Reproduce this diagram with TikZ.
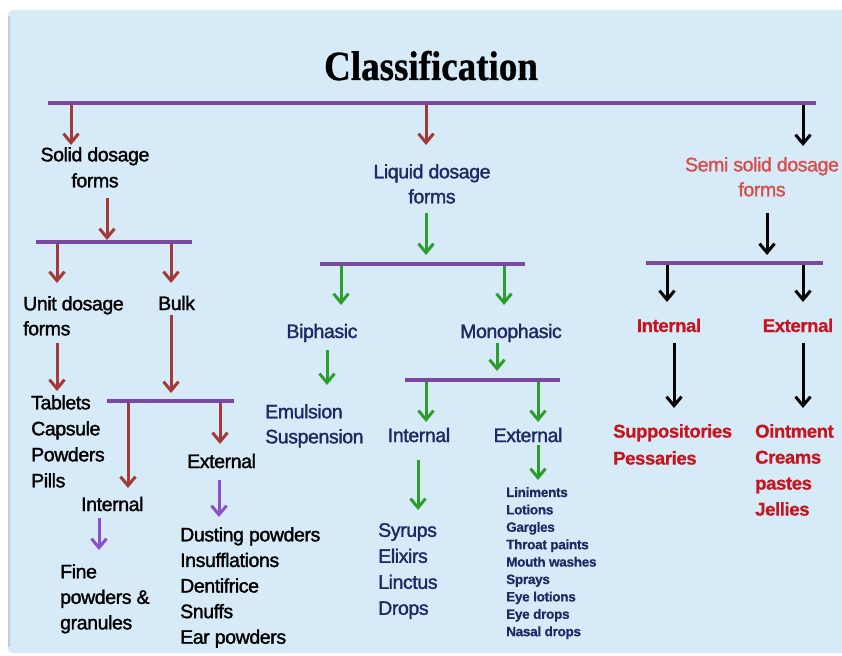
\documentclass[tikz,border=0pt]{standalone}
\usepackage{graphicx}
\usepackage{fontspec}
\setmainfont[FakeBold=1.6,LetterSpace=-2]{Liberation Sans}
\newfontfamily\boldsans[FakeBold=0.8,LetterSpace=-2]{Liberation Sans Bold}
\newfontfamily\titlefont[FakeBold=0.8]{Liberation Serif Bold}
\usetikzlibrary{arrows.meta}
\definecolor{bgc}{RGB}{214,234,248}
\definecolor{barc}{RGB}{122,72,160}
\definecolor{brn}{RGB}{163,58,55}
\definecolor{grn}{RGB}{44,158,44}
\definecolor{prp}{RGB}{140,80,200}
\definecolor{navy}{RGB}{30,42,100}
\definecolor{salmon}{RGB}{214,80,80}
\definecolor{redt}{RGB}{200,20,30}
\begin{document}
\begin{tikzpicture}[x=1pt,y=-1pt,
  bar/.style={barc,line width=4.5pt},
  arr/.style={line width=3pt,-{Straight Barb[length=9pt,width=15pt]}},
  lbl/.style={inner sep=0pt,font=\fontsize{19.5}{25.5}\selectfont},
  sm/.style={inner sep=0pt,font=\boldsans\fontsize{13.5}{17.4}\selectfont},
  rb/.style={inner sep=0pt,text=redt,font=\boldsans\fontsize{18.5}{26}\selectfont}]
\useasboundingbox (0,0) rectangle (842,655);
\fill[white] (0,0) rectangle (842,655);
\fill[bgc,rounded corners=6pt] (8,10) rectangle (860,653);
\fill[black!20] (8,16) rectangle (9.5,647);

% title
\node[inner sep=0pt,anchor=base,font=\titlefont\fontsize{37}{40}\selectfont] (title) at (431,80) {\scalebox{1}[1.12]{Classification}};

% bars
\coordinate (m1) at (48,103);  \coordinate (m2) at (816,103);
\coordinate (s1) at (36,242);  \coordinate (s2) at (192,242);
\coordinate (k1) at (107,401); \coordinate (k2) at (234,401);
\coordinate (l1) at (320,264); \coordinate (l2) at (525,264);
\coordinate (n1) at (405,380); \coordinate (n2) at (560,380);
\coordinate (e1) at (646,263); \coordinate (e2) at (823,263);

% arrows
\foreach \n/\x/\ya/\yb/\c in {
  a1/71/103/145/brn, a2/426/103/145/brn, a3/803/103/146/black,
  a4/107/198/240/brn, a5/57/242/283/brn, a6/171/242/283/brn,
  a7/57/343/391/brn, a8/171/315/393/brn, a9/128/401/488/brn,
  a10/220/401/444/brn, a11/99/518/550/prp, a12/219/480/517/prp,
  a13/426/213/255/grn, a14/341/264/305/grn, a15/504/264/305/grn,
  a16/327/350/385/grn, a17/497/343/371/grn, a18/426/380/422/grn,
  a19/538/380/422/grn, a20/418/460/510/grn, a21/538/445/480/grn,
  a22/767/213/255/black, a23/667/263/302/black, a24/803/263/302/black,
  a25/674/343/408/black, a26/803/343/408/black}
{
  \coordinate (\n s) at (\x,\ya);
  \coordinate (\n e) at (\x,\yb);
  \draw[arr,\c] (\n s) -- (\n e);
}

\draw[bar] (m1) -- (m2);
\draw[bar] (s1) -- (s2);
\draw[bar] (k1) -- (k2);
\draw[bar] (l1) -- (l2);
\draw[bar] (n1) -- (n2);
\draw[bar] (e1) -- (e2);

% solid branch
\node[lbl,align=center,anchor=north,font=\fontsize{19.5}{26}\selectfont] (sol) at (95,147) {Solid dosage\\forms};
\node[lbl,align=left,anchor=north west,font=\fontsize{19.5}{25}\selectfont] (unit) at (23,296) {Unit dosage\\forms};
\node[lbl,anchor=base west] (bulk) at (158,310) {Bulk};
\node[lbl,align=left,anchor=north west,font=\fontsize{19.5}{26}\selectfont] (tabl) at (31,395) {Tablets\\Capsule\\Powders\\Pills};
\node[lbl,anchor=base west] (solint) at (81,511) {Internal};
\node[lbl,anchor=base west] (solext) at (187,468) {External};
\node[lbl,align=left,anchor=north west] (fine) at (60,564) {Fine\\powders \&\\granules};
\node[lbl,align=left,anchor=north west,font=\fontsize{19.5}{25.6}\selectfont] (dust) at (180,527) {Dusting powders\\Insufflations\\Dentifrice\\Snuffs\\Ear powders};

% liquid branch
\node[lbl,align=center,anchor=north,text=navy,font=\fontsize{19.5}{25}\selectfont] (liq) at (432,164) {Liquid dosage\\forms};
\node[lbl,anchor=base,text=navy] (biph) at (322,338) {Biphasic};
\node[lbl,anchor=base,text=navy] (mono) at (511,338) {Monophasic};
\node[lbl,align=left,anchor=north west,text=navy,font=\fontsize{19.5}{25}\selectfont] (emul) at (265,404) {Emulsion\\Suspension};
\node[lbl,anchor=base,text=navy] (liqint) at (419,442) {Internal};
\node[lbl,anchor=base,text=navy] (liqext) at (528,442) {External};
\node[lbl,align=left,anchor=north west,text=navy,font=\fontsize{19.5}{26}\selectfont] (syr) at (378,523) {Syrups\\Elixirs\\Linctus\\Drops};
\node[sm,align=left,anchor=north west,text=navy] (lini) at (506,487) {Liniments\\Lotions\\Gargles\\Throat paints\\Mouth washes\\Sprays\\Eye lotions\\Eye drops\\Nasal drops};

% semi solid branch
\node[lbl,align=center,anchor=north,text=salmon,font=\fontsize{19.5}{25}\selectfont] (semi) at (762,157) {Semi solid dosage\\forms};
\node[rb,anchor=base] (sint) at (669,332) {Internal};
\node[rb,anchor=base] (sext) at (798,332) {External};
\node[rb,align=left,anchor=north west,font=\boldsans\fontsize{18.5}{27}\selectfont] (supp) at (613,424) {Suppositories\\Pessaries};
\node[rb,align=left,anchor=north west] (oint) at (755,424) {Ointment\\Creams\\pastes\\Jellies};
\end{tikzpicture}
\end{document}
